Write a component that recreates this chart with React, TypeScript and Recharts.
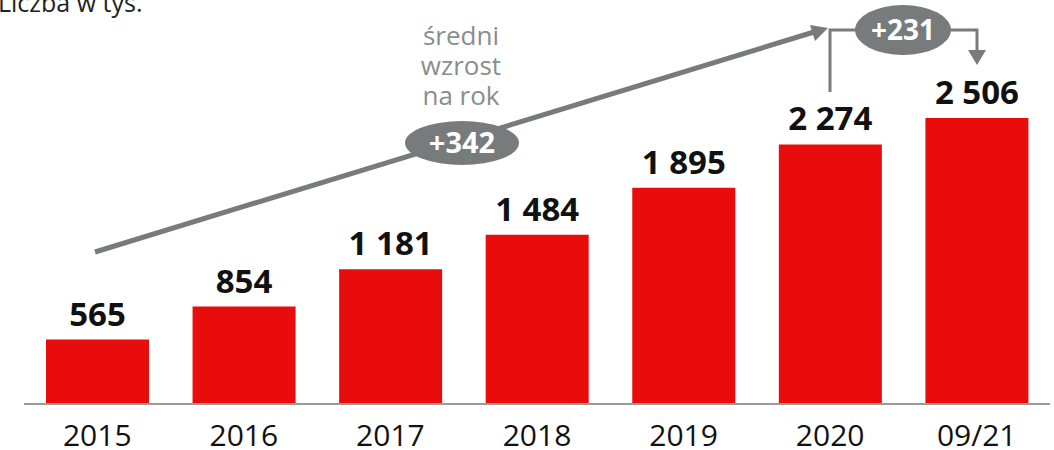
import { BarChart, Bar, XAxis, YAxis, LabelList, Customized } from "recharts";

// Liczba w tys.
const years = ["2015", "2016", "2017", "2018", "2019", "2020", "09/21"];
const values = [565, 854, 1181, 1484, 1895, 2274, 2506];
const avgGrowth = "+342";
const lastGrowth = "+231";
const noteLines = ["średni", "wzrost", "na rok"];

const data = years.map((year, i) => ({ year, value: values[i] }));

const FONT = "'Open Sans', sans-serif";
const GREY = "#787b7b";

const fmt = (v: number) => String(v).replace(/\B(?=(\d{3})+(?!\d))/g, " ");

// Adnotacje: strzałka trendu, dymki ze wzrostem
function Annotations() {
    return (
        <g fontFamily={FONT}>
            <text x={-2} y={12} fontSize={25} fill="#222">Liczba w tys.</text>

            {/* strzałka średniego wzrostu */}
            <line x1={95} y1={252} x2={814} y2={32} stroke={GREY} strokeWidth={5} />
            <polygon points="828,28 810,25 815,41" fill={GREY} />

            {noteLines.map((t, i) => (
                <text key={t} x={461} y={45 + i * 30} textAnchor="middle" fontSize={26} fill="#8c8c8c">
                    {t}
                </text>
            ))}
            <ellipse cx={462} cy={143} rx={57} ry={22} fill={GREY} />
            <text x={462} y={153} textAnchor="middle" fontSize={29} fontWeight="bold" fill="#fff">{avgGrowth}</text>

            {/* wzrost 2020 -> 09/21 */}
            <polyline points="830,92 830,30 856,30" fill="none" stroke={GREY} strokeWidth={3} />
            <ellipse cx={903} cy={30} rx={48} ry={25} fill={GREY} />
            <text x={903} y={40} textAnchor="middle" fontSize={28} fontWeight="bold" fill="#fff">{lastGrowth}</text>
            <polyline points="951,30 977,30 977,52" fill="none" stroke={GREY} strokeWidth={3} />
            <polygon points="968,50 986,50 977,65" fill={GREY} />
        </g>
    );
}

export default function App() {
    return (
        <div style={{ position: "absolute", left: 0, top: 0 }}>
            <BarChart
                width={1054}
                height={450}
                data={data}
                margin={{ top: 0, right: 4, left: 24, bottom: 0 }}
                barCategoryGap="15%"
            >
                <XAxis
                    dataKey="year"
                    height={46}
                    tickLine={false}
                    tickSize={0}
                    tickMargin={21}
                    axisLine={{ stroke: "#9a9a9a", strokeWidth: 2 }}
                    tick={{ fontSize: 30, fill: "#111", fontFamily: FONT }}
                    interval={0}
                />
                <YAxis hide domain={[0, 3540]} />
                <Bar dataKey="value" fill="#e80c0c" isAnimationActive={false}>
                    <LabelList
                        dataKey="value"
                        position="top"
                        offset={14}
                        formatter={(v: any) => fmt(Number(v))}
                        style={{ fontSize: 33, fontWeight: "bold", fill: "#111", fontFamily: FONT }}
                    />
                </Bar>
                <Customized component={<Annotations />} />
            </BarChart>
        </div>
    );
}
